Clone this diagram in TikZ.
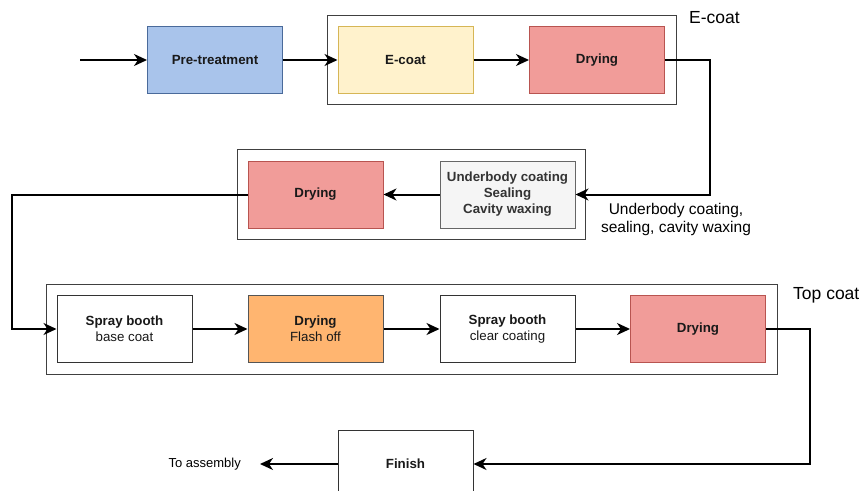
\documentclass[tikz,border=0pt]{standalone}
\usepackage{fontspec}
\setmainfont{Liberation Sans}
\usetikzlibrary{arrows.meta,positioning}
\definecolor{blueF}{HTML}{A9C4EB}
\definecolor{blueS}{HTML}{4A6A9A}
\definecolor{yelF}{HTML}{FFF2CC}
\definecolor{yelS}{HTML}{D6B656}
\definecolor{redF}{HTML}{F19C99}
\definecolor{redS}{HTML}{B85450}
\definecolor{grayF}{HTML}{F5F5F5}
\definecolor{grayS}{HTML}{666666}
\definecolor{grayT}{HTML}{333333}
\definecolor{oraF}{HTML}{FFB570}
\definecolor{oraS}{HTML}{555555}
\tikzset{
  proc/.style={draw, line width=1pt, minimum width=135pt, minimum height=67pt, inner sep=0pt, align=center, font=\fontsize{13.3}{16}\selectfont, text=black!90},
  grp/.style={draw=black!75, line width=1pt},
  conn/.style={line width=2pt, -{Stealth[length=13pt,width=12pt,inset=4pt]}},
  lbl/.style={font=\fontsize{17.5}{20}\selectfont, inner sep=0pt},
}
\begin{document}
\begin{tikzpicture}[x=1pt,y=-1pt]
\clip (0,0) rectangle (864,490);
\useasboundingbox (0,0) rectangle (864,490);
% group frames
\draw[grp] (327,15) rectangle (676,104);
\draw[grp] (237,149) rectangle (585,239);
\draw[grp] (46,284) rectangle (777,374);
% nodes
\coordinate (start) at (80,60);
\node[proc, fill=blueF, draw=blueS] (pre) at (215,60) {\bfseries Pre-treatment};
\node[proc, fill=yelF, draw=yelS] (ecoat) at (405.5,60) {\bfseries E-coat};
\node[proc, fill=redF, draw=redS] (dry1) at (597,60) {\bfseries Drying};
\node[proc, fill=grayF, draw=grayS, text=grayT] (under) at (507.5,194.5) {\bfseries Underbody coating\\\bfseries Sealing\\\bfseries Cavity waxing};
\node[proc, fill=redF, draw=redS] (dry2) at (315.5,194.5) {\bfseries Drying};
\node[proc, fill=white, draw=black!80] (spray1) at (124.5,329) {\bfseries Spray booth\\base coat};
\node[proc, fill=oraF, draw=oraS] (flash) at (315.5,329) {\bfseries Drying\\Flash off};
\node[proc, fill=white, draw=black!80] (spray2) at (507.5,329) {\bfseries Spray booth\\clear coating};
\node[proc, fill=redF, draw=redS] (dry3) at (698,329) {\bfseries Drying};
\node[proc, fill=white, draw=black!80] (finish) at (405.5,464) {\bfseries Finish};
\coordinate (asm) at (260,464);
% labels
\node[lbl, anchor=north west] (lecoat) at (689,11) {E-coat};
\node[lbl, anchor=north west] (ltop) at (793,287) {Top coat};
\node[font=\fontsize{15.5}{18}\selectfont, align=center, inner sep=0pt] (lunder) at (676,219) {Underbody coating,\\sealing, cavity waxing};
\node[font=\fontsize{13}{15}\selectfont, anchor=east, inner sep=0pt] (lasm) at (241,464) {To assembly};
% connectors
\draw[conn] (start) -- (pre);
\draw[conn] (pre) -- (ecoat);
\draw[conn] (ecoat) -- (dry1);
\draw[conn] (dry1.east) -- (710,60) -- (710,194.5) -- (under.east);
\draw[conn] (under) -- (dry2);
\draw[conn] (dry2.west) -- (12,194.5) -- (12,329) -- (spray1.west);
\draw[conn] (spray1) -- (flash);
\draw[conn] (flash) -- (spray2);
\draw[conn] (spray2) -- (dry3);
\draw[conn] (dry3.east) -- (810,329) -- (810,464) -- (finish.east);
\draw[conn] (finish) -- (asm);
\end{tikzpicture}
\end{document}
